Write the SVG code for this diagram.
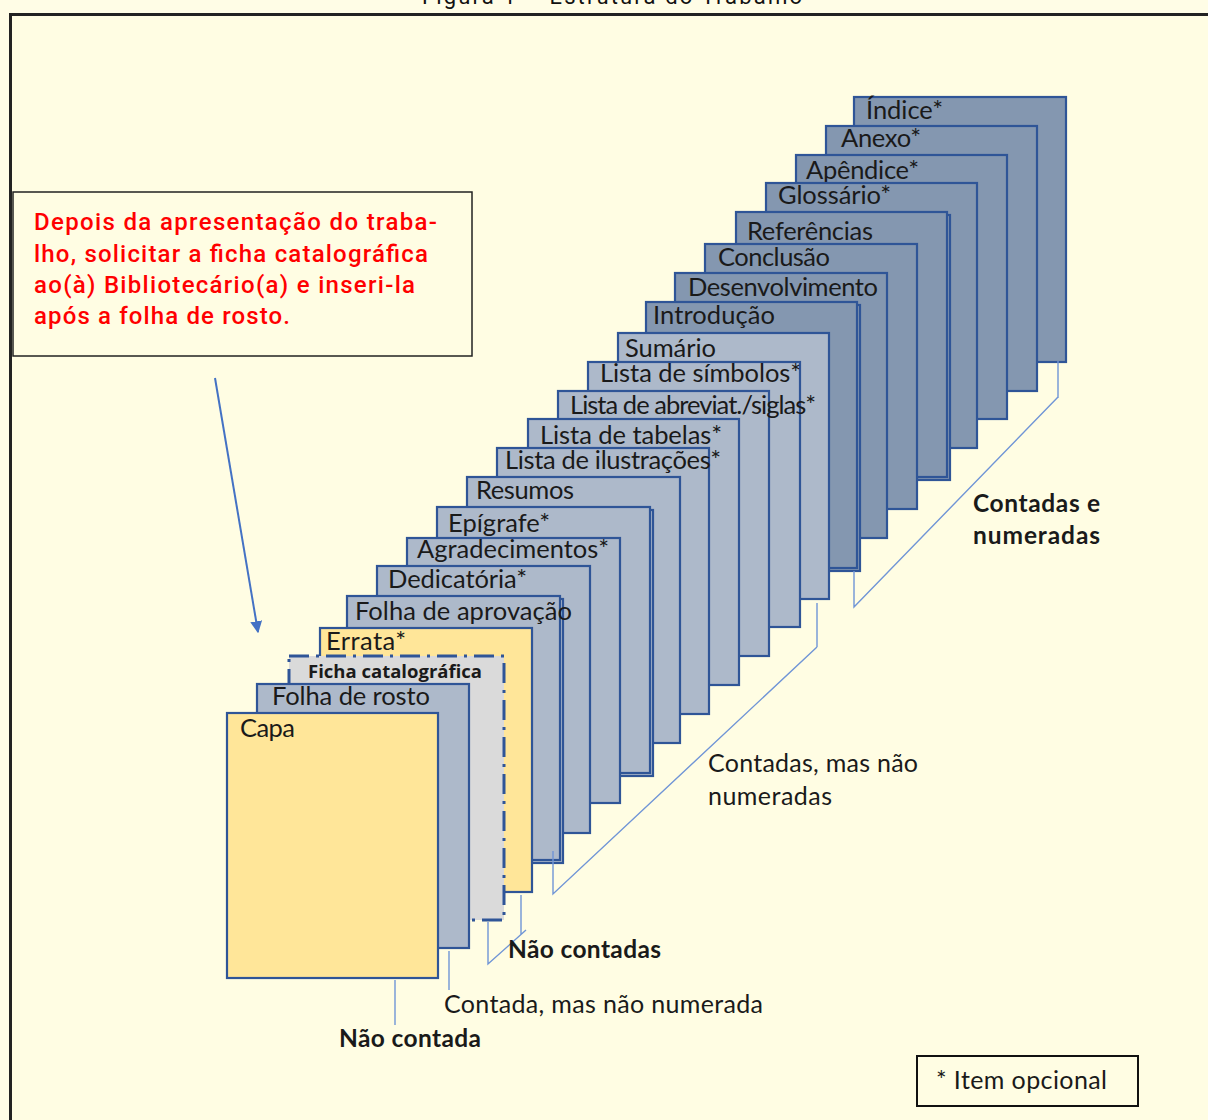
<svg xmlns="http://www.w3.org/2000/svg" width="1208" height="1120" viewBox="0 0 1208 1120">
<defs>
<style>
.pg{stroke:#2f5597;stroke-width:2.2}
.dk{fill:#8497b0}
.lt{fill:#adb9ca}
.yl{fill:#ffe699}
.lbl{font-family:Lato,"Open Sans",sans-serif;font-size:25.5px;fill:#1a1a1a}
.lab{font-family:Lato,"Open Sans",sans-serif;font-size:25px;fill:#1a1a1a}
.labb{font-family:Lato,"Open Sans",sans-serif;font-size:24.5px;font-weight:bold;fill:#1a1a1a}
.red{font-family:Roboto,"DejaVu Sans",sans-serif;font-size:24px;font-weight:500;fill:#ff0000}
.br{fill:none;stroke:#7095d6;stroke-width:1.4}
</style>
<marker id="ah" viewBox="0 0 10 10" refX="9" refY="5" markerWidth="6" markerHeight="6" orient="auto" markerUnits="strokeWidth">
<path d="M0,0 L10,5 L0,10 z" fill="#4472c4"/>
</marker>
</defs>
<rect x="0" y="0" width="1208" height="1120" fill="#fffde6"/>
<text x="612" y="4" text-anchor="middle" font-family="Roboto,'DejaVu Sans',sans-serif" font-size="22" fill="#111" textLength="380">Figura 1 – Estrutura do Trabalho</text>
<rect x="10.5" y="14.5" width="1210" height="1120" fill="#fffde3" stroke="#222" stroke-width="3"/>

<g id="callout">
<rect x="13" y="192" width="459" height="164" fill="none" stroke="#222" stroke-width="1.5"/>
<text class="red" x="34" y="230" textLength="403">Depois da apresentação do traba-</text>
<text class="red" x="34" y="262" textLength="394">lho, solicitar a ficha catalográfica</text>
<text class="red" x="34" y="293" textLength="381">ao(à) Bibliotecário(a) e inseri-la</text>
<text class="red" x="34" y="324" textLength="256">após a folha de rosto.</text>
</g>

<g id="indice"><rect class="pg dk" x="854" y="97" width="212" height="265"/><text class="lbl" x="866" y="119" textLength="77">Índice*</text></g>
<g id="anexo"><rect class="pg dk" x="826" y="126" width="211" height="265"/><text class="lbl" x="841" y="147" textLength="80">Anexo*</text></g>
<g id="apendice"><rect class="pg dk" x="796" y="155" width="211" height="264"/><text class="lbl" x="806" y="179" textLength="113">Apêndice*</text></g>
<g id="glossario"><rect class="pg dk" x="766" y="183" width="211" height="265"/><text class="lbl" x="778" y="204" textLength="113">Glossário*</text></g>
<g id="referencias"><rect class="pg dk" x="739" y="215" width="211" height="265"/><rect class="pg dk" x="736" y="212" width="211" height="265"/><text class="lbl" x="747" y="240" textLength="126">Referências</text></g>
<g id="conclusao"><rect class="pg dk" x="705" y="244" width="212" height="265"/><text class="lbl" x="718" y="266" textLength="112">Conclusão</text></g>
<g id="desenvolvimento"><rect class="pg dk" x="675" y="273" width="212" height="265"/><text class="lbl" x="688" y="296" textLength="190">Desenvolvimento</text></g>
<g id="introducao"><rect class="pg dk" x="649" y="305" width="211" height="266"/><rect class="pg dk" x="646" y="302" width="211" height="266"/><text class="lbl" x="653" y="324" textLength="122">Introdução</text></g>
<g id="sumario"><rect class="pg lt" x="618" y="333" width="211" height="266"/><text class="lbl" x="625" y="357" textLength="91">Sumário</text></g>
<g id="simbolos"><rect class="pg lt" x="588" y="362" width="212" height="265"/><text class="lbl" x="600" y="382" textLength="201">Lista de símbolos*</text></g>
<g id="abreviat"><rect class="pg lt" x="558" y="391" width="211" height="265"/><text class="lbl" x="570" y="414" font-size="22" textLength="246">Lista de abreviat./siglas*</text></g>
<g id="tabelas"><rect class="pg lt" x="528" y="419" width="211" height="266"/><text class="lbl" x="540" y="444" textLength="182">Lista de tabelas*</text></g>
<g id="ilustracoes"><rect class="pg lt" x="497" y="448" width="212" height="266"/><text class="lbl" x="505" y="469" textLength="216">Lista de ilustrações*</text></g>
<g id="resumos"><rect class="pg lt" x="467" y="477" width="213" height="266"/><text class="lbl" x="476" y="499" textLength="98">Resumos</text></g>
<g id="epigrafe"><rect class="pg lt" x="440" y="510" width="213" height="266"/><rect class="pg lt" x="437" y="507" width="213" height="266"/><text class="lbl" x="448" y="532" textLength="102">Epígrafe*</text></g>
<g id="agradecimentos"><rect class="pg lt" x="407" y="538" width="213" height="265"/><text class="lbl" x="417" y="558" textLength="192">Agradecimentos*</text></g>
<g id="dedicatoria"><rect class="pg lt" x="377" y="566" width="213" height="267"/><text class="lbl" x="388" y="588" textLength="139">Dedicatória*</text></g>
<g id="aprovacao"><rect class="pg lt" x="350" y="599" width="213" height="264"/><rect class="pg lt" x="347" y="596" width="213" height="264"/><text class="lbl" x="355" y="620" textLength="217">Folha de aprovação</text></g>
<g id="errata"><rect class="pg yl" x="320" y="628" width="212" height="264"/><text class="lbl" x="326" y="650" textLength="80">Errata*</text></g>
<g id="ficha"><rect x="289" y="656" width="215" height="264" fill="#dadada" stroke="#2f5597" stroke-width="3" stroke-dasharray="20,7,3,7"/><text x="308" y="678" font-family="'Open Sans',Lato,sans-serif" font-size="18.5" font-weight="bold" fill="#1a1a1a">Ficha catalográfica</text></g>
<g id="rosto"><rect class="pg lt" x="257" y="684" width="212" height="264"/><text class="lbl" x="272" y="705" textLength="158">Folha de rosto</text></g>
<g id="capa"><rect class="pg yl" x="227" y="713" width="211" height="265"/><text class="lbl" x="240" y="737" textLength="55">Capa</text></g>

<g id="connectors">
<line x1="215" y1="378" x2="258" y2="632" stroke="#4472c4" stroke-width="2" marker-end="url(#ah)"/>
<path class="br" d="M395,980 V1025"/>
<path class="br" d="M449,951 V990"/>
<path class="br" d="M488,922 V964 L526,930 M521,895 V935"/>
<path class="br" d="M553,851 V894 L817,647 M817,603 V647"/>
<path class="br" d="M854,571 V607 L1058,397 M1058,361 V398"/>
</g>

<g id="labels">
<text class="labb" x="339" y="1047" textLength="142">Não contada</text>
<text class="lab" x="444" y="1013" textLength="319">Contada, mas não numerada</text>
<text class="labb" x="508" y="958" textLength="153">Não contadas</text>
<text class="lab" x="708" y="772" textLength="210">Contadas, mas não</text>
<text class="lab" x="708" y="805" textLength="124">numeradas</text>
<text class="labb" x="973" y="512" textLength="127">Contadas e</text>
<text class="labb" x="973" y="544" textLength="127">numeradas</text>
</g>

<g id="legend">
<rect x="917" y="1056" width="221" height="50" fill="none" stroke="#111" stroke-width="2"/>
<text class="lab" x="936" y="1089" textLength="171">* Item opcional</text>
</g>
</svg>
